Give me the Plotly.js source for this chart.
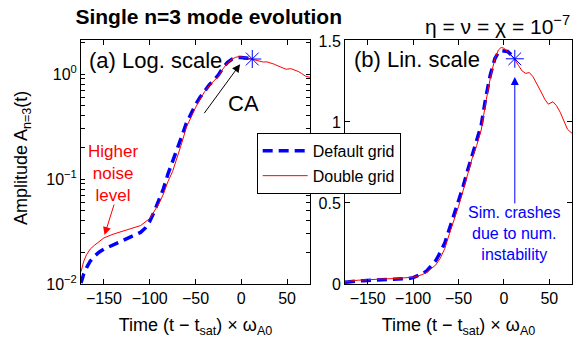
<!DOCTYPE html>
<html>
<head>
<meta charset="utf-8">
<script src="https://cdn.plot.ly/plotly-3.0.1.min.js"></script>
<style>html,body{margin:0;padding:0;background:#fff;}#chart{width:575px;height:345px;}</style>
</head>
<body>
<div id="chart"></div>
<script>
// Double grid (red, thin)
const tDouble = [-175, -172, -169, -165, -160, -155, -150, -140, -130, -120, -110, -100, -95, -90, -85, -80, -75, -70, -65, -60, -55, -50, -45, -40, -35, -30, -25, -20, -15, -10, -6, -3, 0, 4, 8, 12, 16, 20, 24, 28, 32, 36, 41, 45, 49, 54, 58, 62, 66, 70, 75];
const aDouble = [0.0131, 0.0165, 0.019, 0.0215, 0.0235, 0.0255, 0.0275, 0.0298, 0.0318, 0.0335, 0.036, 0.042, 0.049, 0.058, 0.072, 0.095, 0.118, 0.16, 0.22, 0.31, 0.39, 0.478, 0.575, 0.68, 0.775, 0.855, 0.95, 1.12, 1.27, 1.39, 1.445, 1.46, 1.455, 1.435, 1.41, 1.385, 1.35, 1.315, 1.30, 1.305, 1.28, 1.24, 1.185, 1.14, 1.11, 1.125, 1.10, 1.06, 1.01, 0.955, 0.93];
// Default grid (blue, dashed)
const tDefault = [-175, -172, -168, -165, -160, -155, -150, -140, -130, -120, -110, -105, -100, -95, -90, -85, -80, -75, -70, -65, -60, -55, -50, -45, -40, -35, -30, -25, -20, -15, -10, -6, -3, 0, 4, 8, 12];
const aDefault = [0.0102, 0.0125, 0.0148, 0.0165, 0.0185, 0.0202, 0.0215, 0.0236, 0.026, 0.0283, 0.031, 0.034, 0.0395, 0.049, 0.062, 0.081, 0.112, 0.145, 0.195, 0.255, 0.34, 0.425, 0.51, 0.60, 0.70, 0.79, 0.875, 0.98, 1.15, 1.29, 1.39, 1.43, 1.44, 1.44, 1.435, 1.415, 1.39];
// Crash point
const tCrash = [12];
const aCrash = [1.39];

const seriesNames = ['Default grid', 'Double grid'];
const xTickVals = [-150, -100, -50, 0, 50];
const xTickText = ['\u2212150', '\u2212100', '\u221250', '0', '50'];
const logTickVals = [0.01, 0.02, 0.03, 0.04, 0.05, 0.06, 0.07, 0.08, 0.09, 0.1, 0.2, 0.3, 0.4, 0.5, 0.6, 0.7, 0.8, 0.9, 1, 2];
const logTickText = ['10<sup>\u22122</sup>', '', '', '', '', '', '', '', '', '10<sup>\u22121</sup>', '', '', '', '', '', '', '', '', '10<sup>0</sup>', ''];
const linTickVals = [0, 0.5, 1, 1.5];

const FONT = 'Liberation Sans, Arial, sans-serif';
const BLUE = '#0000ff', RED = '#ff0000';

function traces(xa, ya, legend) {
  return [
    {x: tDefault, y: aDefault, xaxis: xa, yaxis: ya, type: 'scatter', mode: 'lines', name: seriesNames[0],
     legendgroup: 'g1', line: {color: BLUE, width: 3.5, dash: '10px,6px'}, showlegend: legend},
    {x: tDouble, y: aDouble, xaxis: xa, yaxis: ya, type: 'scatter', mode: 'lines', name: seriesNames[1],
     legendgroup: 'g2', line: {color: RED, width: 1}, showlegend: legend},
    {x: tCrash, y: aCrash, xaxis: xa, yaxis: ya, type: 'scatter', mode: 'markers', showlegend: false,
     marker: {symbol: 'asterisk-open', size: 15, color: BLUE, line: {color: BLUE, width: 1}}}
  ];
}

const data = [...traces('x', 'y', true), ...traces('x2', 'y2', false)];

const axCommon = {
  showline: true, linecolor: '#000', linewidth: 1, mirror: 'ticks',
  ticks: 'inside', ticklen: 5, tickcolor: '#000', showgrid: false, zeroline: false,
  tickfont: {family: FONT, size: 16, color: '#000'}
};
const xTitle = {text: 'Time (t \u2212 t<sub>sat</sub>) \u00d7 \u03c9<sub>A0</sub>', font: {family: FONT, size: 18, color: '#000'}, standoff: 12};

const layout = {
  width: 575, height: 345,
  margin: {l: 0, r: 0, t: 40, b: 61},
  paper_bgcolor: '#fff', plot_bgcolor: '#fff',
  font: {family: FONT, color: '#000'},
  title: {text: '<b>Single n=3 mode evolution</b>', font: {family: FONT, size: 21, color: '#000'},
          x: 0.363, xanchor: 'center', xref: 'paper', y: 0.951, yanchor: 'middle'},
  xaxis: Object.assign({}, axCommon, {domain: [0.1409, 0.5391], range: [-175, 75], tickvals: xTickVals,
     ticktext: xTickText, title: xTitle, anchor: 'y'}),
  yaxis: Object.assign({}, axCommon, {domain: [0, 1], type: 'log', range: [-2, 0.324], ticklen: 4,
     tickmode: 'array', tickvals: logTickVals, ticktext: logTickText, anchor: 'x'}),
  xaxis2: Object.assign({}, axCommon, {domain: [0.6, 0.9948], range: [-175, 75], tickvals: xTickVals,
     ticktext: xTickText, title: xTitle, anchor: 'y2'}),
  yaxis2: Object.assign({}, axCommon, {domain: [0, 1], range: [0, 1.506], tickvals: linTickVals, anchor: 'x2'}),
  legend: {x: 0.4464, y: 0.619, xanchor: 'left', yanchor: 'top', bgcolor: '#fff', bordercolor: '#000', borderwidth: 1,
           font: {family: FONT, size: 16, color: '#000'}, tracegroupgap: 1, itemwidth: 45},
  annotations: [
    {xref: 'paper', yref: 'paper', x: 22 / 575, y: 0.516, textangle: -90, text: 'Amplitude A<sub>n=3</sub>(t)',
     showarrow: false, xanchor: 'center', yanchor: 'middle', font: {family: FONT, size: 18, color: '#000'}},
    {xref: 'x', yref: 'y', x: -168, y: 0.133, text: '(a) Log. scale', showarrow: false, xanchor: 'left', yanchor: 'middle',
     font: {family: FONT, size: 22, color: '#000'}},
    {xref: 'x', yref: 'y', x: -1.3, y: 0.093, ax: -41.6, ay: -0.387, axref: 'x', ayref: 'y', text: '', showarrow: true,
     arrowhead: 2, arrowsize: 1.6, arrowwidth: 1, arrowcolor: '#000'},
    {xref: 'x', yref: 'y', x: 2.3, y: -0.279, text: 'CA', showarrow: false, font: {family: FONT, size: 22, color: '#000'}},
    {xref: 'x', yref: 'y', x: -140, y: -0.943, text: 'Higher<br>noise<br>level', showarrow: false,
     font: {family: FONT, size: 17, color: RED}},
    {xref: 'x', yref: 'y', x: -149.3, y: -1.533, ax: -138.4, ay: -1.229, axref: 'x', ayref: 'y', text: '', showarrow: true,
     arrowhead: 2, arrowsize: 1.6, arrowwidth: 1, arrowcolor: RED},
    {xref: 'x2', yref: 'y2', x: -167, y: 1.383, text: '(b) Lin. scale', showarrow: false, xanchor: 'left', yanchor: 'middle',
     font: {family: FONT, size: 22, color: '#000'}},
    {xref: 'x2', yref: 'y2', x: 12, y: 1.278, ax: 12, ay: 0.488, axref: 'x2', ayref: 'y2', text: '', showarrow: true,
     arrowhead: 2, arrowsize: 1.6, arrowwidth: 1, arrowcolor: BLUE},
    {xref: 'x2', yref: 'y2', x: 11, y: 0.309, text: 'Sim. crashes<br>due to num.<br>instability', showarrow: false,
     font: {family: FONT, size: 16, color: BLUE}},
    {xref: 'paper', yref: 'paper', x: 0.995, y: 1.0615, xanchor: 'right', yanchor: 'middle', showarrow: false,
     text: '\u03b7 = \u03bd = \u03c7 = 10<sup>\u22127</sup>', font: {family: FONT, size: 21, color: '#000'}}
  ]
};

Plotly.newPlot('chart', data, layout, {displayModeBar: false, staticPlot: true});
</script>
</body>
</html>
